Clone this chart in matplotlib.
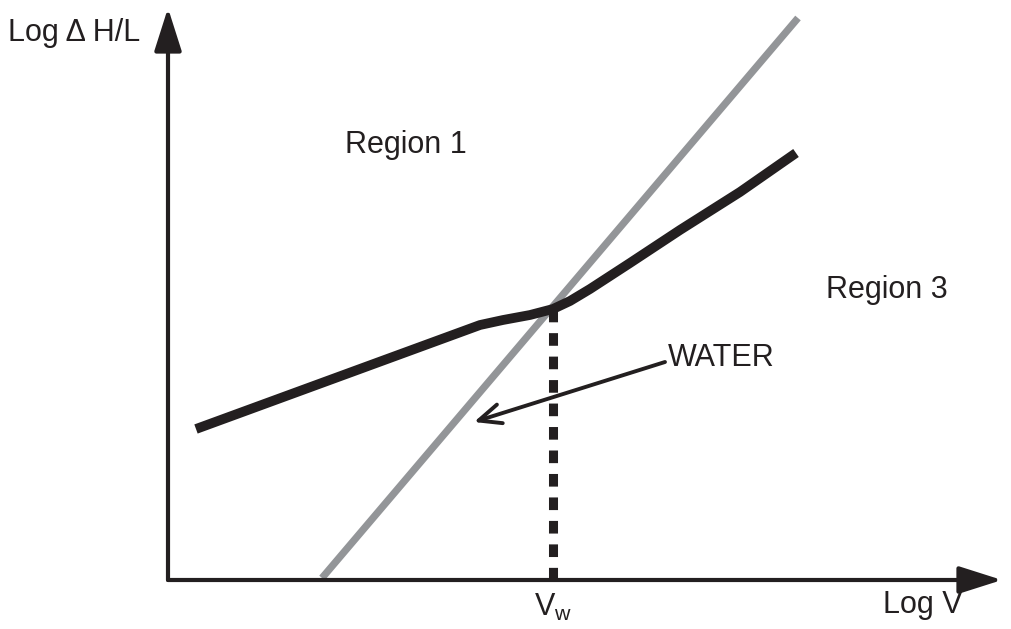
import matplotlib
matplotlib.use("Agg")
import matplotlib.pyplot as plt

plt.rcParams['font.family'] = ['Liberation Sans', 'DejaVu Sans']

# Schematic coordinates (Log V, Log dH/L) in arbitrary units, origin at axes corner
water_x = [1.54, 6.30]
water_y = [0.02, 5.62]

curve_x = [0.28, 3.12, 3.35, 3.62, 3.85, 4.02, 4.22, 4.62, 5.12, 5.72, 6.28]
curve_y = [1.51, 2.55, 2.60, 2.65, 2.71, 2.79, 2.91, 3.17, 3.50, 3.88, 4.27]

vw_x = 3.85
vw_y = 2.71

axis_x_end = 8.34
axis_y_end = 5.72

BLACK = '#231f20'
GRAY = '#939598'

fig = plt.figure(figsize=(10.12, 6.29), dpi=100)
ax = fig.add_axes([0, 0, 1, 1])
ax.set_xlim(-1.68, 8.44)
ax.set_ylim(-0.49, 5.80)
ax.axis('off')

# axes arrows
ax.annotate('', xy=(axis_x_end, 0), xytext=(0, 0),
            arrowprops=dict(arrowstyle='-|>,head_length=1.1,head_width=0.35',
                            lw=3, color=BLACK, mutation_scale=24, shrinkA=0, shrinkB=0))
ax.annotate('', xy=(0, axis_y_end), xytext=(0, 0),
            arrowprops=dict(arrowstyle='-|>,head_length=1.1,head_width=0.35',
                            lw=3, color=BLACK, mutation_scale=24, shrinkA=0, shrinkB=0))

ax.plot(water_x, water_y, color=GRAY, lw=5.2, solid_capstyle='butt', zorder=2)
ax.plot(curve_x, curve_y, color=BLACK, lw=7, solid_capstyle='butt',
        solid_joinstyle='round', zorder=3)
ax.plot([vw_x, vw_x], [0, vw_y], color=BLACK, lw=6.5, linestyle=(0, (1.4, 1.2)),
        dash_capstyle='butt', zorder=3)

# WATER annotation
ax.annotate('', xy=(3.06, 1.58), xytext=(4.97, 2.18),
            arrowprops=dict(arrowstyle='->,head_length=0.8,head_width=0.35',
                            lw=2.8, color=BLACK, mutation_scale=20, shrinkA=0, shrinkB=0),
            zorder=4)
ax.text(5.00, 2.22, 'WATER', fontsize=22, color=BLACK, ha='left', va='center')

ax.text(1.77, 4.35, 'Region 1', fontsize=22, color=BLACK, ha='left', va='center')
ax.text(6.58, 2.90, 'Region 3', fontsize=22, color=BLACK, ha='left', va='center')
ax.text(-1.60, 5.47, 'Log \u0394 H/L', fontsize=22, color=BLACK, ha='left', va='center')
ax.text(7.95, -0.25, 'Log V', fontsize=22, color=BLACK, ha='right', va='center')
ax.text(vw_x, -0.27, r'V$_\mathregular{w}$', fontsize=22, color=BLACK,
        ha='center', va='center')

fig.savefig('out.png', dpi=100)
